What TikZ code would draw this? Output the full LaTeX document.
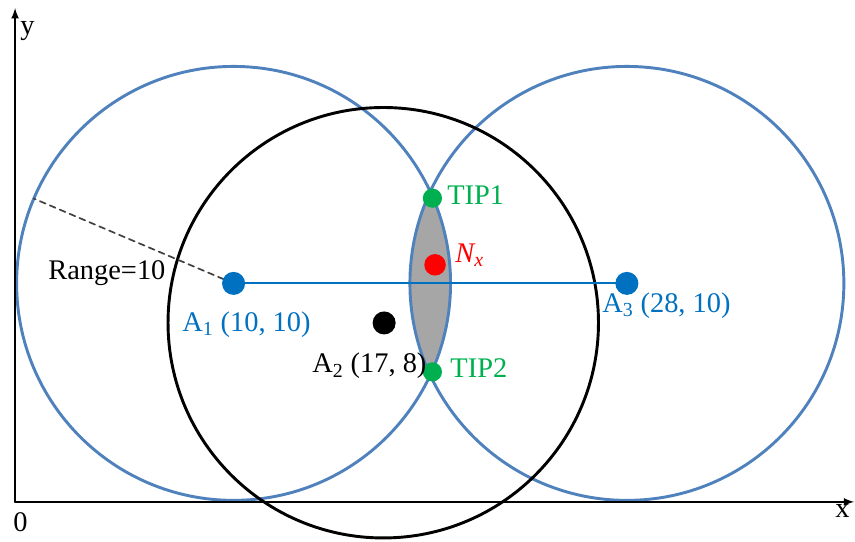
\documentclass[tikz,border=0pt]{standalone}
\usepackage{fontspec}
\setmainfont{Liberation Serif}
\definecolor{ringblue}{HTML}{4F81BD}
\definecolor{dotblue}{HTML}{0070C0}
\definecolor{tipgreen}{HTML}{00B050}

\begin{document}
\begin{tikzpicture}[>=latex,x=.5cm,y=.5cm,line cap=round,
    lbl/.style={inner sep=0pt,anchor=base west,font=\fontsize{18.5}{22}\selectfont},
    ring/.style={line width=1.9pt},
    spot/.style={circle,fill,inner sep=0pt,minimum size=15pt}]
    \useasboundingbox (-.69,-1.79) rectangle (38.44,22.97);
    \coordinate (O) at (0,0);
    \coordinate (xend) at (38.4,0);
    \coordinate (yend) at (0,22.6);
    \coordinate (A1) at (10,10);
    \coordinate (A2) at (16.85,8.2);
    \coordinate (A3) at (28,10);
    % overlap of the two ranges
    \begin{scope}
        \clip (A1) circle (9.93);
        \fill[black!35] (A3) circle (9.93);
    \end{scope}
    \draw[ring,ringblue] (A1) circle (9.93) (A3) circle (9.93);
    \draw[ring] (A2) circle (9.85);
    \path (A1) ++(157:9.93) coordinate (rim);
    \draw[dashed,black!75,line width=1.1pt,dash pattern=on 4pt off 3pt] (A1) -- (rim);
    \draw[dotblue,line width=1.4pt] (A1) -- (A3);
    % axes
    \draw[->,line width=1.3pt] (O) -- (xend);
    \draw[->,line width=1.3pt] (O) -- (yend);
    % points
    \node[spot,dotblue] (a1) at (A1) {};
    \node[spot,dotblue] (a3) at (A3) {};
    \node[spot,black] (a2) at (16.89,8.19) {};
    \node[spot,tipgreen,minimum size=12.5pt] (tip1) at (19.1,13.9) {};
    \node[spot,tipgreen,minimum size=12.5pt] (tip2) at (19.1,5.95) {};
    \node[spot,red,minimum size=14pt] (nx) at (19.22,10.85) {};
    % labels
    \node[lbl,dotblue] (la1) at (7.64,7.78) {A\textsubscript{1} (10, 10)};
    \node[lbl] (la2) at (13.59,5.9) {A\textsubscript{2} (17, 8)};
    \node[lbl,dotblue] (la3) at (26.86,8.65) {A\textsubscript{3} (28, 10)};
    \node[lbl,tipgreen] (ltip1) at (19.77,13.59) {TIP1};
    \node[lbl,tipgreen] (ltip2) at (19.91,5.68) {TIP2};
    \node[lbl,red] (lnx) at (20.14,10.94) {\itshape N\textsubscript{x}};
    \node[lbl] (lrange) at (1.51,10.16) {Range=10};
    \node[lbl] (lo) at (-.09,-1.37) {0};
    \node[lbl] (lx) at (37.53,-.73) {x};
    \node[lbl] (ly) at (.23,21.37) {y};
\end{tikzpicture}
\end{document}
